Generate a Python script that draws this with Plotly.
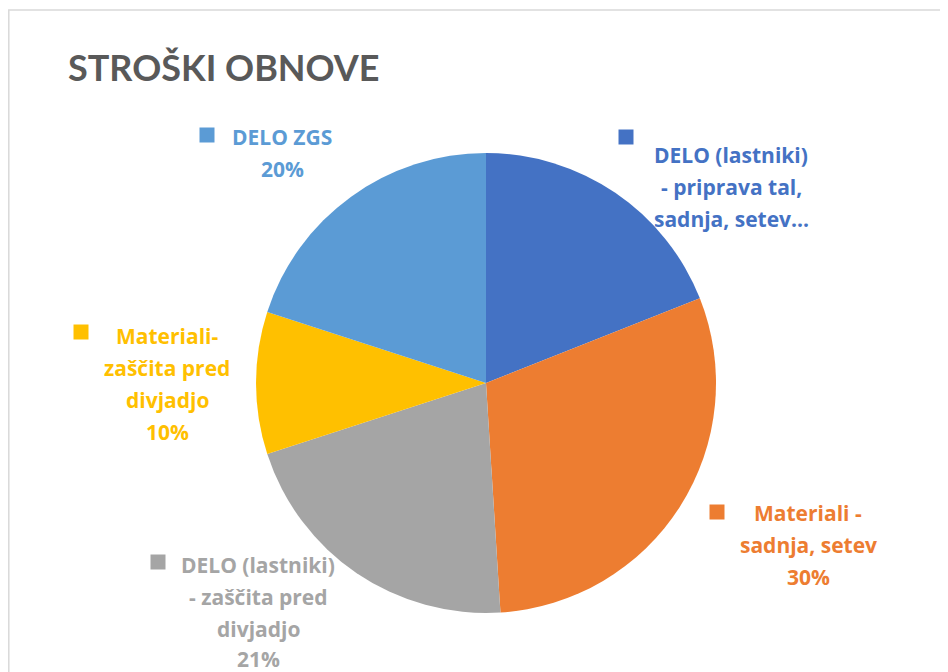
import plotly.graph_objects as go

W, H = 948, 672
OX, OY = 8, 8  # page offset of the plot within the window

categories = [
    "DELO (lastniki) - priprava tal, sadnja, setev...",
    "Materiali - sadnja, setev",
    "DELO (lastniki) - zaščita pred divjadjo",
    "Materiali- zaščita pred divjadjo",
    "DELO ZGS",
]
values = [19, 30, 21, 10, 20]
colors = ["#4472C4", "#ED7D31", "#A5A5A5", "#FFC000", "#5B9BD5"]
label_lines = [
    ["DELO (lastniki)", "- priprava tal,", "sadnja, setev..."],
    ["Materiali -", "sadnja, setev", "30%"],
    ["DELO (lastniki)", "- zaščita pred", "divjadjo", "21%"],
    ["Materiali-", "zaščita pred", "divjadjo", "10%"],
    ["DELO ZGS", "20%"],
]

LABEL_FONT = "Open Sans"
TITLE_FONT = "Lato"

def px(x):
    return (x - OX) / W

def py(y):
    return 1 - (y - OY) / H

cx, cy, r = 486, 383, 230

fig = go.Figure()
fig.add_trace(go.Pie(
    labels=categories,
    values=values,
    sort=False,
    direction="clockwise",
    rotation=0,
    marker=dict(colors=colors, line=dict(width=0)),
    textinfo="none",
    hoverinfo="label+percent",
    showlegend=False,
    domain=dict(x=[px(cx - r), px(cx + r)], y=[py(cy + r), py(cy - r)]),
))

# label layout: (text centre x, first line centre y, square centre x, square centre y)
label_pos = [
    (731, 155, 626, 137),
    (808, 513, 717, 512),
    (258, 565, 158, 562),
    (167, 336, 81, 332),
    (282, 137, 207, 135),
]
line_step = 32

annotations = []
shapes = []
for lines, col, (tx, ty, sx, sy) in zip(label_lines, colors, label_pos):
    for i, ln in enumerate(lines):
        yy = min(ty + i * line_step, 659)
        annotations.append(dict(
            x=px(tx), y=py(yy), xref="paper", yref="paper",
            text="<b>" + ln + "</b>", showarrow=False,
            xanchor="center", yanchor="middle",
            font=dict(family=LABEL_FONT, size=21, color=col),
        ))
    shapes.append(dict(
        type="rect", xref="paper", yref="paper",
        x0=px(sx - 7.5), x1=px(sx + 7.5), y0=py(sy + 7.5), y1=py(sy - 7.5),
        fillcolor=col, line=dict(width=0),
    ))

# chart area border
shapes.append(dict(
    type="rect", xref="paper", yref="paper",
    x0=px(8.8), x1=px(W + 40), y0=py(H + 40), y1=py(10),
    fillcolor="rgba(0,0,0,0)", line=dict(color="#D9D9D9", width=1.5),
    layer="below",
))

annotations.append(dict(
    x=px(66), y=py(67), xref="paper", yref="paper",
    text="<b>STROŠKI OBNOVE</b>", showarrow=False,
    xanchor="left", yanchor="middle",
    font=dict(family=TITLE_FONT, size=36, color="#595959"),
))

fig.update_layout(
    width=W, height=H,
    margin=dict(l=0, r=0, t=0, b=0),
    paper_bgcolor="white",
    plot_bgcolor="white",
    annotations=annotations,
    shapes=shapes,
)

fig.write_html("out.html")
